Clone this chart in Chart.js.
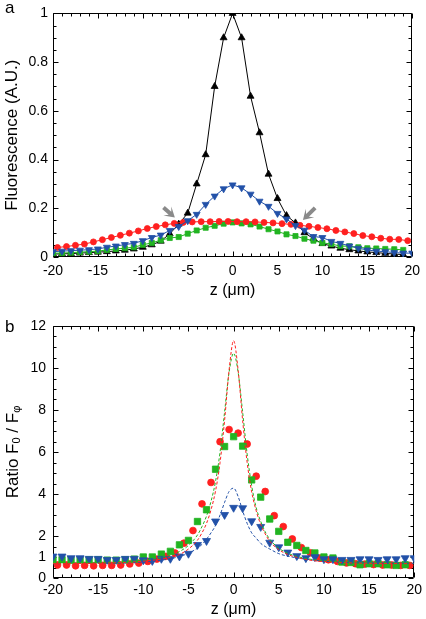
<!DOCTYPE html>
<html><head><meta charset="utf-8">
<script src="https://cdn.jsdelivr.net/npm/chart.js@4/dist/chart.umd.min.js"></script>
<style>
html,body{margin:0;padding:0;background:#fff;}
#wrap{position:relative;width:426px;height:619px;overflow:hidden;}
canvas{position:absolute;left:0;}
#ca{top:0;} #cb{top:305px;}
.pl{position:absolute;font-family:"Liberation Sans",Arial,sans-serif;font-size:17px;color:#000;}
</style></head><body>
<div id="wrap">
<canvas id="ca" width="426" height="305"></canvas>
<canvas id="cb" width="426" height="314"></canvas>
<div class="pl" style="left:5px;top:-2px;">a</div>
<div class="pl" style="left:5px;top:317px;">b</div>
</div>
<script>
// ---------- DATA ----------
const zInt = [-20,-19,-18,-17,-16,-15,-14,-13,-12,-11,-10,-9,-8,-7,-6,-5,-4,-3,-2,-1,0,1,2,3,4,5,6,7,8,9,10,11,12,13,14,15,16,17,18,19,20];
const zHalf = [-19.5,-18.5,-17.5,-16.5,-15.5,-14.5,-13.5,-12.5,-11.5,-10.5,-9.5,-8.5,-7.5,-6.5,-5.5,-4.5,-3.5,-2.5,-1.5,-0.5,0.5,1.5,2.5,3.5,4.5,5.5,6.5,7.5,8.5,9.5,10.5,11.5,12.5,13.5,14.5,15.5,16.5,17.5,18.5,19.5];

// Panel a: fluorescence (A.U.)
const aBlack = [0.012,0.013,0.014,0.016,0.018,0.02,0.022,0.025,0.028,0.033,0.04,0.05,0.065,0.095,0.135,0.18,0.30,0.42,0.70,0.90,1.0,0.90,0.66,0.51,0.34,0.24,0.17,0.14,0.10,0.075,0.055,0.045,0.036,0.03,0.025,0.021,0.018,0.015,0.012,0.01,null];
const aBlue  = [0.022,0.024,0.026,0.028,0.03,0.033,0.04,0.045,0.051,0.056,0.067,0.08,0.09,0.109,0.125,0.149,0.175,0.216,0.25,0.28,0.296,0.284,0.258,0.229,0.208,0.179,0.156,0.129,0.11,0.084,0.08,0.064,0.056,0.045,0.036,0.029,0.024,0.022,0.018,0.016,0.016];
const aGreen = [0.016,0.016,0.018,0.02,0.022,0.024,0.029,0.033,0.036,0.04,0.05,0.058,0.069,0.078,0.082,0.096,0.109,0.12,0.128,0.137,0.142,0.138,0.134,0.125,0.114,0.105,0.093,0.086,0.075,0.067,0.058,0.053,0.045,0.044,0.04,0.036,0.035,0.033,0.032,0.029,null];
const aRed   = [0.039,0.043,0.048,0.053,0.062,0.071,0.08,0.089,0.098,0.107,0.117,0.125,0.132,0.138,0.142,0.144,0.145,0.145,0.146,0.146,0.145,0.145,0.144,0.142,0.14,0.137,0.134,0.13,0.126,0.121,0.116,0.109,0.103,0.096,0.088,0.083,0.077,0.073,0.072,0.067];
// arrow annotations (data units): [tailZ, tailV, tipZ, tipV]
const aArrows = [[-7.7,0.203,-6.43,0.162],[9.19,0.202,7.83,0.152]];

// Panel b: ratio F0/Fphi
const bRed   = [0.62,0.62,0.58,0.6,0.58,0.6,0.6,0.62,0.67,0.71,0.79,0.9,1.03,1.19,1.66,2.26,3.53,4.55,6.49,7.07,6.9,6.38,4.85,4.12,2.97,2.45,1.86,1.45,1.2,0.95,0.87,0.79,0.72,0.68,0.66,0.64,0.62,0.62,0.6,0.6];
const bGreen = [0.88,0.87,0.84,0.87,0.87,0.87,0.85,0.85,0.87,0.9,1.0,1.0,1.14,1.27,1.58,1.79,2.69,3.25,5.18,6.26,6.73,6.28,4.67,3.85,2.81,2.22,1.7,1.55,1.31,1.19,1.0,0.95,0.76,0.74,0.63,0.68,0.68,0.63,0.6,0.63,null];
const bBlue  = [1.03,1.03,0.95,0.95,0.92,0.92,0.87,0.87,0.92,0.92,0.85,0.82,0.92,0.92,1.03,1.16,1.58,1.77,2.7,3.01,3.35,3.33,2.71,2.44,1.69,1.47,1.22,1.05,0.95,1.0,0.9,0.9,0.87,0.87,0.9,0.9,0.87,0.9,0.9,0.95,0.95];
// model curves (dashed)
const zFit = [-20,-15,-12,-10,-8,-7,-6,-5,-4,-3.5,-3,-2.5,-2,-1.5,-1,-0.5,0,0.5,1,1.5,2,2.5,3,3.5,4,5,6,7,8,10,12,15,20];
const fitRed   = [0.68,0.7,0.74,0.8,0.9,0.98,1.12,1.38,1.8,2.15,2.6,3.25,4.15,5.5,7.5,9.9,11.3,9.9,7.5,5.5,4.1,3.2,2.55,2.1,1.75,1.35,1.12,0.98,0.88,0.78,0.73,0.7,0.68];
const fitGreen = [0.7,0.72,0.77,0.85,0.98,1.08,1.26,1.55,2.05,2.45,2.95,3.65,4.6,6.0,7.9,9.8,10.7,9.8,7.9,5.9,4.4,3.35,2.7,2.2,1.85,1.42,1.18,1.03,0.93,0.82,0.76,0.72,0.7];
const fitBlue  = [0.68,0.7,0.72,0.76,0.85,0.92,1.02,1.18,1.42,1.6,1.85,2.15,2.5,3.0,3.6,4.12,4.28,3.88,3.2,2.6,2.15,1.9,1.65,1.5,1.38,1.16,1.04,0.96,0.9,0.8,0.75,0.72,0.7];

const yTicksB = [0,1,2,4,6,8,10,12];

// ---------- STYLE ----------
const FONT = '"Liberation Sans", Arial, sans-serif';
const RED = '#ff2020', GREEN = '#22b422', BLUE = '#2251a8', BLACK = '#000000';
const pts = (xs, ys) => xs.map((x,i) => ({x, y: ys[i]}));

function framePlugin(cfg){
  return {
    id:'frame_'+cfg.name,
    beforeDatasetsDraw(chart){
      const {ctx, chartArea:a, scales:{x,y}} = chart;
      ctx.save();
      ctx.strokeStyle='#000'; ctx.lineWidth=1;
      const L=Math.round(a.left)+0.5, R=Math.round(a.right)-0.5, T=Math.round(a.top)+0.5, B=Math.round(a.bottom)-0.5;
      ctx.beginPath();
      ctx.rect(L,T,R-L,B-T);
      const xt = x.ticks.map(t=>t.value);
      for(let k=0;k<xt.length;k++){
        const v=xt[k];
        const px=Math.round(x.getPixelForValue(v))+0.5;
        ctx.moveTo(px,B); ctx.lineTo(px,B-5); ctx.moveTo(px,T); ctx.lineTo(px,T+5);
        if(k<xt.length-1){
          const step=(xt[k+1]-v)/cfg.xMinorDiv;
          for(let j=1;j<cfg.xMinorDiv;j++){
            const p=Math.round(x.getPixelForValue(v+j*step))+0.5;
            ctx.moveTo(p,B); ctx.lineTo(p,B-3); ctx.moveTo(p,T); ctx.lineTo(p,T+3);
          }
        }
      }
      const ymaj = cfg.yMajor;
      for(let k=0;k<ymaj.length;k++){
        const v=ymaj[k];
        const py=Math.round(y.getPixelForValue(v))+0.5;
        ctx.moveTo(L,py); ctx.lineTo(L+5,py); ctx.moveTo(R,py); ctx.lineTo(R-5,py);
        if(k<ymaj.length-1){
          const step=(ymaj[k+1]-v)/cfg.yMinorDiv;
          for(let j=1;j<cfg.yMinorDiv;j++){
            const p=Math.round(y.getPixelForValue(v+j*step))+0.5;
            ctx.moveTo(L,p); ctx.lineTo(L+3,p); ctx.moveTo(R,p); ctx.lineTo(R-3,p);
          }
        }
      }
      ctx.stroke();
      ctx.restore();
    }
  };
}

const arrowPlugin = {
  id:'arrows',
  afterDatasetsDraw(chart){
    const {ctx, scales:{x,y}} = chart;
    ctx.save();
    ctx.fillStyle='#8a8a8a';
    aArrows.forEach(([z0,v0,z1,v1])=>{
      const x0=x.getPixelForValue(z0), y0=y.getPixelForValue(v0);
      const x1=x.getPixelForValue(z1), y1=y.getPixelForValue(v1);
      const dx=x1-x0, dy=y1-y0, d=Math.hypot(dx,dy);
      const ux=dx/d, uy=dy/d, nx=-uy, ny=ux;
      const h=10, hw=6, notch=3.5, sw=2;
      const P=(s,t)=>[x1-ux*s+nx*t, y1-uy*s+ny*t];
      const poly=[P(0,0),P(h,hw),P(h-notch,sw),P(d,sw),P(d,-sw),P(h-notch,-sw),P(h,-hw)];
      ctx.beginPath();
      poly.forEach((p,i)=> i?ctx.lineTo(p[0],p[1]):ctx.moveTo(p[0],p[1]));
      ctx.closePath(); ctx.fill();
    });
    ctx.restore();
  }
};

const yTitleB = {
  id:'ytitleb',
  afterDraw(chart){
    const {ctx, chartArea:a} = chart;
    ctx.save();
    ctx.translate(13,(a.top+a.bottom)/2);
    ctx.rotate(-Math.PI/2);
    ctx.fillStyle='#000';
    const big='17px '+FONT, small='11px '+FONT;
    const parts=[['Ratio F',big,0],['0',small,4],[' / F',big,0],['φ',small,4]];
    let w=0;
    parts.forEach(p=>{ctx.font=p[1]; w+=ctx.measureText(p[0]).width;});
    let cx=-w/2;
    ctx.textBaseline='middle';
    parts.forEach(p=>{ctx.font=p[1]; ctx.fillText(p[0],cx,p[2]); cx+=ctx.measureText(p[0]).width;});
    ctx.restore();
  }
};

function lineDs(label, xs, ys, color, style, r, rot, showLine, order){
  return {label, data: pts(xs,ys), borderColor: color, backgroundColor: color,
    pointStyle: style, pointRadius: r, pointRotation: rot||0, pointBorderWidth: 0.8,
    pointBorderColor: color, pointBackgroundColor: color,
    showLine: showLine, borderWidth: 1, spanGaps: true, order: order};
}

const fmt = (v) => String(Math.round(v*100)/100);

const xScale = (pad, titlePad, h) => ({
  type:'linear', min:-20, max:20,
  ticks:{stepSize:5, font:{family:FONT,size:14}, color:'#000', padding:pad, maxRotation:0, callback:fmt},
  grid:{display:false, drawTicks:false}, border:{display:false},
  title:{display:true, text:'z (μm)', font:{family:FONT,size:16}, color:'#000', padding:{top:0,bottom:titlePad}},
  afterFit:(s)=>{s.height=h;}
});

Chart.defaults.animation=false;

new Chart(document.getElementById('ca'), {
  type:'scatter',
  data:{datasets:[
    lineDs('blue', zInt, aBlue, BLUE, 'triangle', 4, 180, true, 0),
    lineDs('red', zHalf, aRed, RED, 'circle', 3, 0, true, 1),
    lineDs('green', zInt, aGreen, GREEN, 'rect', 3.6, 0, true, 2),
    lineDs('black', zInt, aBlack, BLACK, 'triangle', 4, 0, true, 3)
  ]},
  options:{
    responsive:false, animation:false, events:[],
    layout:{padding:{top:7,right:10,left:0,bottom:0}},
    plugins:{legend:{display:false}, tooltip:{enabled:false}},
    scales:{
      x: xScale(6, 5, 48),
      y:{type:'linear', min:0, max:1,
        ticks:{stepSize:0.2, font:{family:FONT,size:14}, color:'#000', padding:5, callback:fmt},
        grid:{display:false, drawTicks:false}, border:{display:false},
        title:{display:true, text:'Fluorescence (A.U.)', font:{family:FONT,size:17}, color:'#000', padding:{top:2,bottom:0}},
        afterFit:(s)=>{s.width=53;}
      }
    }
  },
  plugins:[framePlugin({name:'a', xMinorDiv:5, yMajor:[0,0.2,0.4,0.6,0.8,1], yMinorDiv:4}), arrowPlugin]
});

const fitDs = (label, ys, color) => ({label, data: pts(zFit, ys), borderColor: color, borderWidth:1,
  borderDash:[3,2], pointRadius:0, showLine:true, cubicInterpolationMode:'monotone', order:-1});

new Chart(document.getElementById('cb'), {
  type:'scatter',
  data:{datasets:[
    fitDs('fit red', fitRed, RED),
    fitDs('fit green', fitGreen, GREEN),
    fitDs('fit blue', fitBlue, BLUE),
    lineDs('blue', zInt, bBlue, BLUE, 'triangle', 4.6, 180, false, 0),
    lineDs('green', zInt, bGreen, GREEN, 'rect', 4.5, 0, false, 1),
    lineDs('red', zHalf, bRed, RED, 'circle', 3.4, 0, false, 2)
  ]},
  options:{
    responsive:false, animation:false, events:[],
    layout:{padding:{top:21,right:10,left:0,bottom:0}},
    plugins:{legend:{display:false}, tooltip:{enabled:false}},
    scales:{
      x: xScale(4, 0, 41),
      y:{type:'linear', min:0, max:12,
        afterBuildTicks:(s)=>{s.ticks=yTicksB.map(v=>({value:v}));},
        ticks:{font:{family:FONT,size:14}, color:'#000', padding:7, callback:fmt},
        grid:{display:false, drawTicks:false}, border:{display:false},
        title:{display:false},
        afterFit:(s)=>{s.width=53;}
      }
    }
  },
  plugins:[framePlugin({name:'b', xMinorDiv:5, yMajor:[0,2,4,6,8,10,12], yMinorDiv:4}), yTitleB]
});
</script>
</body></html>
